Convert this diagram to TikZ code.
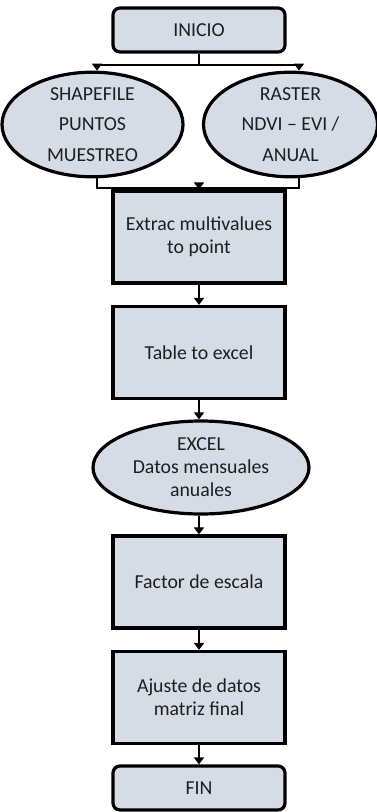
\documentclass[tikz,border=0pt]{standalone}
\usepackage{fontspec}
\setmainfont{Carlito}
\usetikzlibrary{shapes.geometric,arrows.meta}
\definecolor{boxfill}{HTML}{D6DCE5}
\definecolor{txt}{HTML}{1E1E1E}
\tikzset{
  base/.style={draw=black, line width=3.2pt, fill=boxfill, text=txt, align=center, inner sep=0pt,
    font=\fontsize{19.8}{23}\selectfont},
  stepbox/.style={base, rectangle, minimum width=172pt, minimum height=92pt},
  termbox/.style={base, rectangle, rounded corners=7pt, minimum width=172pt, minimum height=44pt},
  oval/.style={base, ellipse},
  conn/.style={line width=2.8pt, draw=black},
  arr/.style={conn, -{Triangle[width=10pt,length=7pt]}}
}
\begin{document}
\begin{tikzpicture}[x=1pt,y=-1pt]
\useasboundingbox (0,0) rectangle (377,812);
\node[termbox] (inicio) at (199,30) {INICIO};
\node[oval, minimum width=181pt, minimum height=100pt, font=\fontsize{19.8}{30.5}\selectfont] (shp) at (92.5,124.5) {SHAPEFILE\\PUNTOS\\MUESTREO};
\node[oval, minimum width=174pt, minimum height=100pt, font=\fontsize{19.8}{30.5}\selectfont] (ras) at (290.5,124.5) {RASTER\\NDVI – EVI /\\ANUAL};
\node[stepbox] (extrac) at (199,237) {Extrac multivalues\\to point};
\node[stepbox] (table) at (199,352.5) {Table to excel};
\node[oval, minimum width=216pt, minimum height=93pt] (excel) at (201,467.5) {EXCEL\\Datos mensuales\\anuales};
\node[stepbox] (factor) at (199,582) {Factor de escala};
\node[stepbox] (ajuste) at (199,697.5) {Ajuste de datos\\matriz final};
\node[termbox] (fin) at (199,788) {FIN};

\coordinate (s1) at (199,65);
\coordinate (sl) at (97,65);
\coordinate (sr) at (299,65);
\coordinate (j1) at (199,188);
\coordinate (jl) at (97,188);
\coordinate (jr) at (299,188);

\draw[conn] (inicio.south) -- (s1);
\draw[conn, line cap=rect] (sl) -- (sr);
\draw[arr] (sl) -- (sl |- shp.north);
\draw[arr] (sr) -- (sr |- ras.north);
\draw[conn] (jl |- shp.south) -- (jl) -- (jr) -- (jr |- ras.south);
\draw[arr] (j1) -- (extrac.north);
\draw[arr] (extrac.south) -- (table.north);
\draw[arr] (table.south) -- (table.south |- excel.north);
\draw[arr] (excel.south -| factor.north) -- (factor.north);
\draw[arr] (factor.south) -- (ajuste.north);
\draw[arr] (ajuste.south) -- (fin.north);
\end{tikzpicture}
\end{document}
